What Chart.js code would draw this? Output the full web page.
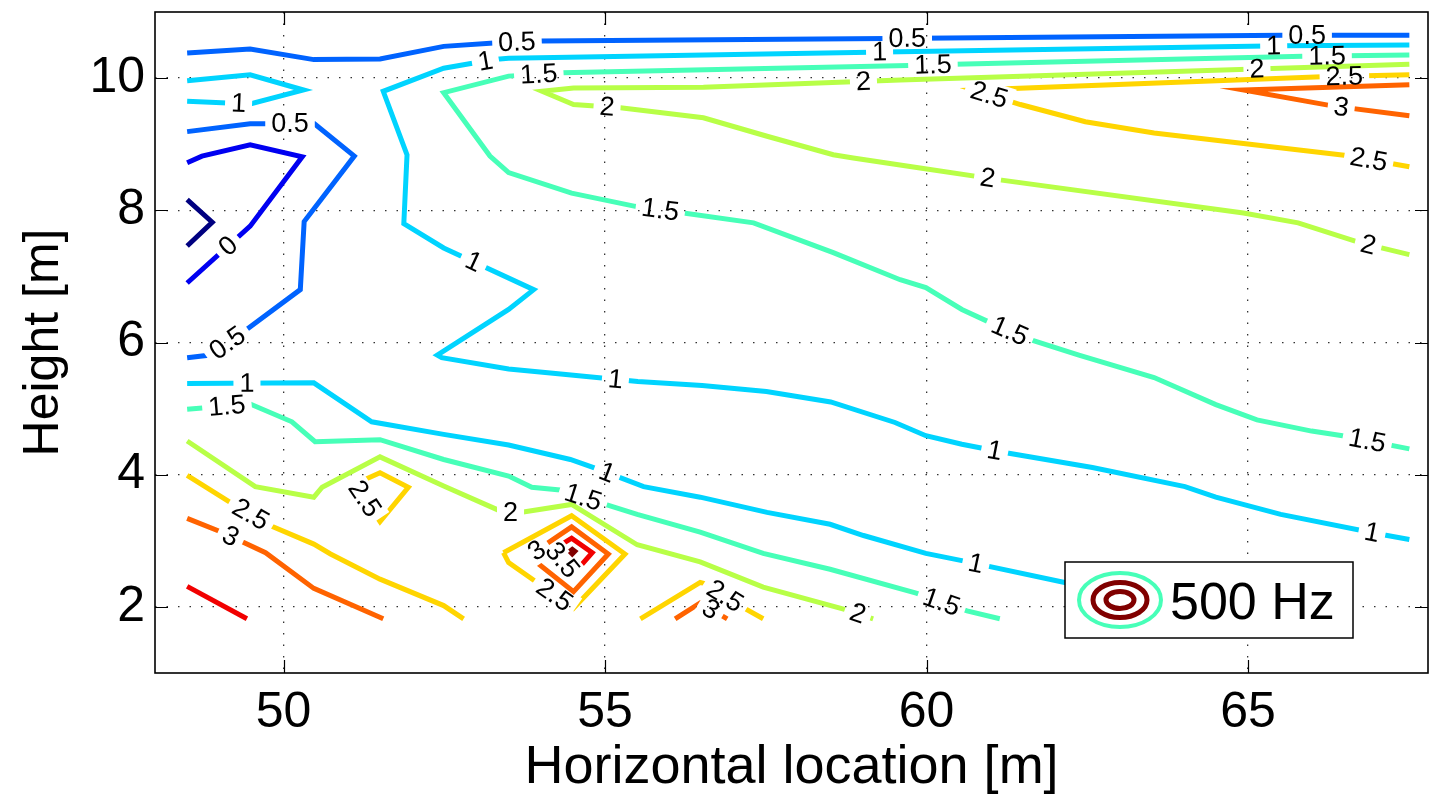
<!DOCTYPE html>
<html>
<head>
<meta charset="utf-8">
<title>500 Hz contour map</title>
<script src="https://cdn.jsdelivr.net/npm/chart.js@4.4.1/dist/chart.umd.min.js"></script>
<style>
  html, body { margin: 0; padding: 0; background: #fff; }
  #wrap { width: 1438px; height: 797px; }
</style>
</head>
<body>
<div id="wrap"><canvas id="c" width="1438" height="797"></canvas></div>
<script>
const FONT = '"Liberation Sans", Arial, Helvetica, sans-serif';

// Contour levels (colour scale runs over the whole set)
const levels = [-0.5, 0, 0.5, 1, 1.5, 2, 2.5, 3, 3.5, 4];
const xTicks = [50, 55, 60, 65];
const yTicks = [2, 4, 6, 8, 10];
const xLimits = [48, 67.8];
const yLimits = [1, 11];
const legendText = '500 Hz';

// Contour paths as [horizontal location, height] in metres
const cM05 = [[48.5,8.16],[48.89,7.82],[48.5,7.46]];
const c0 = [[48.5,8.72],[48.73,8.82],[49.48,8.99],[50.29,8.81],[49.48,7.76],[48.5,6.9]];
const c05a = [[48.5,10.38],[49.48,10.44],[50.47,10.28],[51.5,10.29],[52.49,10.48],[53.27,10.53],[54.01,10.56],[59.39,10.6],[65.55,10.65],[67.51,10.65]];
const c05b = [[48.5,9.19],[49.48,9.31],[50.48,9.31],[51.1,8.82],[50.32,7.83],[50.26,6.8],[49.43,6.2],[48.86,5.81],[48.5,5.77]];
const c1a = [[67.51,10.5],[65.54,10.49],[59.59,10.4],[53.5,10.3],[53.27,10.28],[52.49,10.15],[51.55,9.8],[51.92,8.84],[51.87,7.8],[52.49,7.43],[53.89,6.8],[53.5,6.5],[52.39,5.81],[52.46,5.77],[53.5,5.6],[54.15,5.54],[55.51,5.41],[56.51,5.35],[57.51,5.26],[58.51,5.1],[59.51,4.79],[59.99,4.59],[60.55,4.46],[61.19,4.34],[62.58,4.11],[64.02,3.82],[64.5,3.66],[65.51,3.4],[67.06,3.1],[67.51,3.02]];
const c1b = [[48.5,9.96],[49.48,10.05],[50.31,9.82],[49.48,9.61],[48.5,9.65]];
const c1c = [[48.5,5.38],[50.47,5.39],[51.37,4.8],[52.49,4.61],[53.5,4.45],[54.46,4.23],[54.9,4.08],[55.6,3.82],[56.48,3.66],[57.52,3.43],[58.5,3.25],[59.02,3.08],[59.99,2.81],[60.55,2.7],[62.15,2.37],[63.48,2.12]];
const c15a = [[67.51,10.35],[65.86,10.33],[60.44,10.21],[59.72,10.19],[54.33,10.08],[53.5,10.03],[52.49,9.78],[53.21,8.82],[53.5,8.57],[54.48,8.26],[55.47,8.06],[56.22,7.96],[57.31,7.81],[58.55,7.36],[59.59,6.95],[59.99,6.83],[60.55,6.5],[60.95,6.32],[61.59,6.05],[62.37,5.81],[63.54,5.47],[64.5,5.06],[65.14,4.83],[65.99,4.66],[66.47,4.59],[67.51,4.39]];
const c15b = [[48.5,4.99],[49.48,5.07],[50.13,4.8],[50.49,4.5],[51.5,4.53],[52.49,4.23],[53.5,3.98],[53.86,3.81],[54.3,3.77],[54.98,3.56],[55.5,3.4],[56.48,3.13],[57.46,2.81],[58.5,2.57],[59.84,2.21],[60.63,1.94],[61.14,1.82]];
const c2a = [[67.51,10.21],[59.59,9.97],[56.53,9.86],[54.51,9.85],[54.02,9.8],[54.51,9.6],[55.24,9.55],[56.53,9.4],[57.52,9.12],[58.55,8.84],[58.86,8.79],[59.9,8.64],[61.14,8.46],[64.93,7.96],[65.78,7.81],[66.74,7.51],[67.51,7.33]];
const c2b = [[48.5,4.51],[49.56,3.82],[50.47,3.66],[50.6,3.81],[51.5,4.27],[52.49,3.83],[53.42,3.43],[53.68,3.43],[54.48,3.55],[55.5,2.94],[56.48,2.68],[57.46,2.3],[58.81,1.94],[59.17,1.82]];
const c25a = [[67.51,10.05],[66.15,10.02],[60.74,9.82],[61.46,9.6],[62.47,9.34],[63.54,9.17],[64.93,9.01],[66.53,8.83],[67.51,8.66]];
const c25b = [[48.5,3.99],[49.17,3.58],[49.79,3.23],[50.47,2.95],[50.73,2.8],[51.5,2.42],[52.49,2.02],[52.8,1.82]];
const c25c = [[51.11,3.86],[51.5,4.03],[51.94,3.81],[51.5,3.29],[51.11,3.86]];
const c25d = [[53.42,2.82],[54.48,3.38],[55.31,2.8],[54.51,1.98],[53.97,2.35],[53.5,2.67],[53.42,2.82]];
const c25e = [[55.55,1.82],[56.48,2.37],[56.56,2.35],[57.15,1.99],[57.46,1.82]];
const c3a = [[67.51,9.9],[64.93,9.82],[66.31,9.58],[67.51,9.43]];
const c3b = [[48.5,3.34],[49.04,3.13],[49.72,2.82],[50.47,2.28],[51.55,1.82]];
const c3c = [[53.81,2.77],[54.48,3.21],[55.05,2.8],[54.51,2.23],[53.81,2.77]];
const c3d = [[56.09,1.82],[56.48,2.06],[56.9,1.82]];
const c35a = [[48.5,2.31],[49.43,1.82]];
const c35b = [[54.2,2.87],[54.48,3.04],[54.8,2.82],[54.51,2.5],[54.2,2.87]];
const c4 = [[54.45,2.84],[54.49,2.87],[54.53,2.84],[54.49,2.8],[54.45,2.84]];

// Where the level numbers sit along each path
const lab0 = [[49.14,7.46]];
const lab05a = [[53.63,10.55],[59.70,10.59],[65.92,10.62]];
const lab05b = [[50.10,9.28],[49.12,6.00]];
const lab1a = [[65.40,10.48],[59.27,10.38],[53.14,10.25],[52.95,7.21],[55.16,5.43],[61.06,4.36],[66.93,3.13]];
const lab1b = [[49.30,9.62]];
const lab1c = [[49.43,5.45],[55.03,4.03],[60.76,2.62]];
const lab15a = [[66.23,10.32],[60.10,10.20],[53.97,10.05],[55.86,8.01],[61.27,6.12],[66.85,4.49]];
const lab15b = [[49.12,5.02],[54.66,3.66],[60.24,2.09]];
const lab2a = [[65.14,10.13],[59.02,9.93],[55.03,9.55],[60.95,8.49],[66.87,7.48]];
const lab2b = [[53.53,3.41],[58.92,1.87]];
const lab25a = [[66.50,10.00],[60.95,9.67],[66.87,8.72]];
const lab25b = [[49.46,3.35]];
const lab25c = [[51.25,3.63]];
const lab25d = [[54.19,2.15]];
const lab25e = [[56.84,2.12]];
const lab3a = [[66.45,9.56]];
const lab3b = [[49.17,3.05]];
const lab3c = [[53.91,2.89]];
const lab3d = [[56.63,1.94]];
const lab35b = [[54.30,2.68]];

const contours = [
  { level: -0.5, path: cM05, labels: [] },
  { level: 0, path: c0, labels: lab0 },
  { level: 0.5, path: c05a, labels: lab05a },
  { level: 0.5, path: c05b, labels: lab05b },
  { level: 1, path: c1a, labels: lab1a },
  { level: 1, path: c1b, labels: lab1b },
  { level: 1, path: c1c, labels: lab1c },
  { level: 1.5, path: c15a, labels: lab15a },
  { level: 1.5, path: c15b, labels: lab15b },
  { level: 2, path: c2a, labels: lab2a },
  { level: 2, path: c2b, labels: lab2b },
  { level: 2.5, path: c25a, labels: lab25a },
  { level: 2.5, path: c25b, labels: lab25b },
  { level: 2.5, path: c25c, labels: lab25c },
  { level: 2.5, path: c25d, labels: lab25d },
  { level: 2.5, path: c25e, labels: lab25e },
  { level: 3, path: c3a, labels: lab3a },
  { level: 3, path: c3b, labels: lab3b },
  { level: 3, path: c3c, labels: lab3c },
  { level: 3, path: c3d, labels: lab3d },
  { level: 3.5, path: c35a, labels: [] },
  { level: 3.5, path: c35b, labels: lab35b },
  { level: 4, path: c4, labels: [] }
];

// jet colour map
function jet(level) {
  const lo = levels[0], hi = levels[levels.length - 1];
  const t = (level - lo) / (hi - lo);
  const c = v => Math.round(255 * Math.max(0, Math.min(1, v)));
  return `rgb(${c(1.5 - Math.abs(4 * t - 3))},${c(1.5 - Math.abs(4 * t - 2))},${c(1.5 - Math.abs(4 * t - 1))})`;
}

const LABEL_FONT = `27px ${FONT}`;

// Position and angle (pixels) of each label on its path
function labelGeometry(chart, di) {
  const xs = chart.scales.x, ys = chart.scales.y;
  const pts = contours[di].path.map(([x, y]) => [xs.getPixelForValue(x), ys.getPixelForValue(y)]);
  return contours[di].labels.map(([lx, ly]) => {
    const px = xs.getPixelForValue(lx), py = ys.getPixelForValue(ly);
    let best = null;
    for (let i = 0; i < pts.length - 1; i++) {
      const [x1, y1] = pts[i], [x2, y2] = pts[i + 1];
      const dx = x2 - x1, dy = y2 - y1, L2 = dx * dx + dy * dy;
      let t = L2 > 0 ? ((px - x1) * dx + (py - y1) * dy) / L2 : 0;
      t = Math.max(0, Math.min(1, t));
      const qx = x1 + t * dx, qy = y1 + t * dy;
      const d = (qx - px) ** 2 + (qy - py) ** 2;
      if (!best || d < best.d) {
        let a = Math.atan2(dy, dx);
        if (a > Math.PI / 2) a -= Math.PI;
        if (a < -Math.PI / 2) a += Math.PI;
        best = { d, x: qx, y: qy, a };
      }
    }
    return best;
  });
}

// Breaks each line where its level number is written, then writes the numbers
const contourLabels = {
  id: 'contourLabels',
  beforeDatasetDraw(chart, args) {
    const ctx = chart.ctx;
    ctx.save();
    const geo = labelGeometry(chart, args.index);
    if (!geo.length) return;
    ctx.font = LABEL_FONT;
    const w = ctx.measureText(String(contours[args.index].level)).width + 12;
    const h = 26;
    ctx.beginPath();
    ctx.rect(0, 0, chart.width, chart.height);
    geo.forEach(g => {
      const c = Math.cos(g.a), s = Math.sin(g.a);
      const corners = [[-w / 2, -h / 2], [w / 2, -h / 2], [w / 2, h / 2], [-w / 2, h / 2]]
        .map(([u, v]) => [g.x + u * c - v * s, g.y + u * s + v * c]);
      ctx.moveTo(corners[0][0], corners[0][1]);
      for (let i = 1; i < 4; i++) ctx.lineTo(corners[i][0], corners[i][1]);
      ctx.closePath();
    });
    ctx.clip('evenodd');
  },
  afterDatasetDraw(chart) {
    chart.ctx.restore();
  },
  afterDatasetsDraw(chart) {
    const ctx = chart.ctx;
    contours.forEach((c, di) => {
      const text = String(c.level);
      labelGeometry(chart, di).forEach(g => {
        ctx.save();
        ctx.translate(g.x, g.y);
        ctx.rotate(g.a);
        ctx.font = LABEL_FONT;
        ctx.fillStyle = '#000';
        ctx.textAlign = 'center';
        ctx.textBaseline = 'middle';
        ctx.fillText(text, 0, 1);
        ctx.restore();
      });
    });
  }
};

// Legend box with the ring symbol
const ringLegend = {
  id: 'ringLegend',
  afterDatasetsDraw(chart) {
    const ctx = chart.ctx;
    const bx = 1065, by = 562, bw = 288, bh = 76;
    ctx.save();
    ctx.fillStyle = '#fff';
    ctx.fillRect(bx, by, bw, bh);
    ctx.strokeStyle = '#000';
    ctx.lineWidth = 1.5;
    ctx.strokeRect(bx, by, bw, bh);
    const cx = 1120, cy = 600;
    ctx.lineWidth = 4;
    ctx.strokeStyle = jet(1.5);
    ctx.beginPath(); ctx.ellipse(cx, cy, 41, 27, 0, 0, Math.PI * 2); ctx.stroke();
    ctx.lineWidth = 5;
    ctx.strokeStyle = jet(4);
    ctx.beginPath(); ctx.ellipse(cx, cy, 27, 17.5, 0, 0, Math.PI * 2); ctx.stroke();
    ctx.beginPath(); ctx.ellipse(cx, cy, 14, 8.5, 0, 0, Math.PI * 2); ctx.stroke();
    ctx.fillStyle = '#000';
    ctx.font = `52px ${FONT}`;
    ctx.textAlign = 'left';
    ctx.textBaseline = 'alphabetic';
    ctx.fillText(legendText, 1170, 619);
    ctx.restore();
  }
};

// Axes box with inward tick marks
const axesFrame = {
  id: 'axesFrame',
  afterDraw(chart) {
    const { ctx, chartArea: a } = chart;
    const xs = chart.scales.x, ys = chart.scales.y;
    ctx.save();
    ctx.strokeStyle = '#000';
    ctx.lineWidth = 1.2;
    ctx.beginPath();
    xTicks.forEach(v => {
      const p = Math.round(xs.getPixelForValue(v)) + 0.5;
      ctx.moveTo(p, a.bottom); ctx.lineTo(p, a.bottom - 13);
      ctx.moveTo(p, a.top); ctx.lineTo(p, a.top + 13);
    });
    yTicks.forEach(v => {
      const p = Math.round(ys.getPixelForValue(v)) + 0.5;
      ctx.moveTo(a.left, p); ctx.lineTo(a.left + 13, p);
      ctx.moveTo(a.right, p); ctx.lineTo(a.right - 13, p);
    });
    ctx.stroke();
    ctx.lineWidth = 1.6;
    ctx.strokeRect(a.left, a.top, a.right - a.left, a.bottom - a.top);
    ctx.restore();
  }
};

const datasets = contours.map(c => ({
  label: String(c.level),
  data: c.path.map(([x, y]) => ({ x, y })),
  showLine: true,
  borderColor: jet(c.level),
  backgroundColor: jet(c.level),
  borderWidth: 5,
  pointRadius: 0,
  pointHoverRadius: 0,
  fill: false,
  tension: 0,
  borderCapStyle: 'butt',
  borderJoinStyle: 'miter'
}));

new Chart(document.getElementById('c'), {
  type: 'scatter',
  data: { datasets },
  plugins: [contourLabels, ringLegend, axesFrame],
  options: {
    responsive: false,
    animation: false,
    devicePixelRatio: 1,
    layout: { padding: { top: 12, right: 10, left: 0, bottom: 0 } },
    plugins: { legend: { display: false }, tooltip: { enabled: false } },
    scales: {
      x: {
        type: 'linear',
        min: xLimits[0],
        max: xLimits[1],
        afterBuildTicks: s => { s.ticks = xTicks.map(v => ({ value: v })); },
        afterFit: s => { s.height = 124; s.paddingLeft = 0; s.paddingRight = 0; },
        grid: { color: '#333', lineWidth: 1.3, drawTicks: false },
        border: { display: false, dash: [1.5, 10] },
        ticks: { color: '#000', font: { family: FONT, size: 50, lineHeight: 1.2 }, padding: 10, maxRotation: 0, autoSkip: false },
        title: { display: true, text: 'Horizontal location [m]', color: '#000', font: { family: FONT, size: 54, lineHeight: 1 }, padding: { top: 0, bottom: 2 } }
      },
      y: {
        type: 'linear',
        min: yLimits[0],
        max: yLimits[1],
        afterBuildTicks: s => { s.ticks = yTicks.map(v => ({ value: v })); },
        afterFit: s => { s.width = 155; s.paddingTop = 0; s.paddingBottom = 0; },
        grid: { color: '#333', lineWidth: 1.3, drawTicks: false },
        border: { display: false, dash: [1.5, 10] },
        ticks: { color: '#000', font: { family: FONT, size: 50, lineHeight: 1.2 }, padding: 10, autoSkip: false },
        title: { display: true, text: 'Height [m]', color: '#000', font: { family: FONT, size: 50, lineHeight: 1 }, padding: { top: 19, bottom: 0 } }
      }
    }
  }
});
</script>
</body>
</html>
